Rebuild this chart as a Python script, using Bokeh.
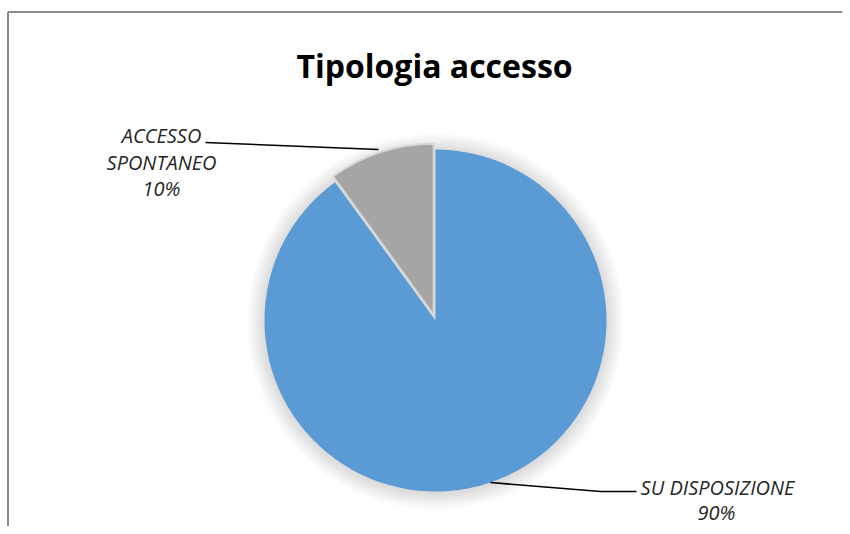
import math
from bokeh.plotting import figure
from bokeh.models import Range1d, ColumnDataSource
from bokeh.core.properties import value
from bokeh.embed import file_html
from bokeh.resources import INLINE

# ---- data ----
categories = ["SU DISPOSIZIONE", "ACCESSO SPONTANEO"]
values = [90, 10]
colors = ["#5B9BD5", "#A5A5A5"]
title_text = "Tipologia accesso"

W, H = 842, 526
TOP = 534  # screen -> data: y_data = TOP - y_screen

def sy(y):
    return TOP - y

p = figure(width=W, height=H, output_backend="svg", toolbar_location=None,
           x_range=Range1d(0, W), y_range=Range1d(TOP - H, TOP),
           min_border=0, outline_line_color=None)
p.axis.visible = False
p.grid.visible = False
p.background_fill_color = "white"
p.border_fill_color = "white"

# frame lines (document box)
p.segment(x0=[7.5, 7.5], y0=[sy(11.5), sy(11.5)], x1=[7.5, W + 10], y1=[TOP - H - 10, sy(11.5)],
          line_color="#8A8A8A", line_width=2)

cx, cy, r = 435, sy(320), 171

# soft shadow
for k in range(1, 19):
    p.circle(x=[cx], y=[cy - 1], radius=r + k, fill_color="black", fill_alpha=0.009,
             line_color=None)

# pie wedges computed from values, clockwise from 12 o'clock
total = sum(values)
start = math.pi / 2
starts, ends, xs, ys, lw = [], [], [], [], []
for i, v in enumerate(values):
    sweep = 2 * math.pi * v / total
    end = start - sweep
    mid = (start + end) / 2
    explode = 6 if i == 1 else 0
    xs.append(cx + explode * math.cos(mid))
    ys.append(cy + explode * math.sin(mid))
    starts.append(end)
    ends.append(start)
    lw.append(0 if i == 0 else 2)
    start = end

src = ColumnDataSource(dict(x=xs, y=ys, s=starts, e=ends, c=colors,
                            lc=["#5B9BD5", "#D6D6D6"], lw=lw))
p.wedge(x="x", y="y", radius=r, start_angle="s", end_angle="e", fill_color="c",
        line_color="lc", line_width="lw", source=src)

# title
p.text(x=[434], y=[sy(65)], text=[title_text], text_font=value("Open Sans"),
       text_font_style="bold", text_font_size="32px", text_color="black",
       text_align="center", text_baseline="alphabetic")

# labels
pcts = [f"{round(100 * v / total)}%" for v in values]
lab_font = value("Open Sans")
# ACCESSO SPONTANEO
p.text(x=[161, 161, 161], y=[sy(135), sy(162), sy(188)],
       text=categories[1].split(" ") + [pcts[1]], text_font=lab_font,
       text_font_style="italic", text_font_size="20px", text_color="#262626",
       text_align="center", text_baseline="middle")
# SU DISPOSIZIONE
p.text(x=[717, 716], y=[sy(487), sy(512)],
       text=[categories[0], pcts[0]], text_font=lab_font,
       text_font_style="italic", text_font_size="20px", text_color="#262626",
       text_align="center", text_baseline="middle")

# leader lines
p.line(x=[205, 378], y=[sy(142), sy(149)], line_color="black", line_width=1.6)
p.line(x=[490, 600, 636], y=[sy(482), sy(491), sy(491)], line_color="black", line_width=1.6)

open("out.html", "w").write(file_html(p, INLINE))
